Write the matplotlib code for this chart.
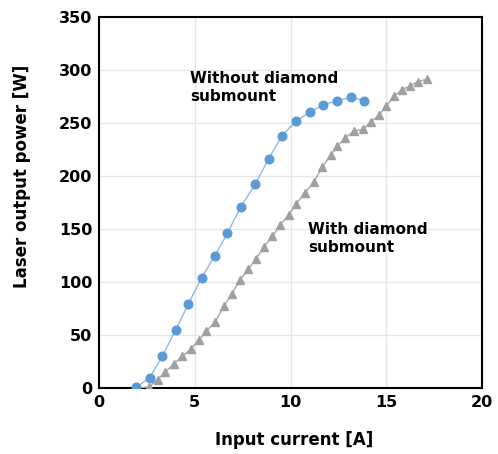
import matplotlib
matplotlib.use("Agg")
import matplotlib.pyplot as plt

# without diamond submount (blue circles)
cur_without = [1.95, 2.65, 3.3, 4.0, 4.65, 5.35, 6.05, 6.7, 7.4, 8.15, 8.85,
               9.55, 10.3, 11.0, 11.7, 12.45, 13.15, 13.85]
pow_without = [1, 10, 30, 55, 79, 104, 125, 146, 171, 192, 216,
               238, 252, 260, 267, 271, 274, 271]

# with diamond submount (gray triangles)
cur_with = [2.0, 2.6, 3.05, 3.45, 3.9, 4.35, 4.8, 5.2, 5.6, 6.05, 6.5, 6.95,
            7.35, 7.8, 8.2, 8.6, 9.05, 9.45, 9.9, 10.3, 10.75, 11.2, 11.65,
            12.1, 12.45, 12.85, 13.3, 13.8, 14.2, 14.6, 15.0, 15.4, 15.8,
            16.25, 16.65, 17.1]
pow_with = [0, 1, 8, 15, 23, 30, 37, 45, 54, 62, 77, 89,
            102, 112, 122, 133, 143, 154, 163, 174, 184, 194, 208,
            220, 228, 236, 242, 244, 251, 257, 266, 275, 281,
            285, 289, 291]

xticks = [0, 5, 10, 15, 20]
yticks = [0, 50, 100, 150, 200, 250, 300, 350]

plt.rcParams['font.family'] = ['DejaVu Sans']

fig = plt.figure(figsize=(4.98, 4.54), dpi=100)
ax = fig.add_axes([0.199, 0.145, 0.769, 0.818])

ax.grid(True, color='#e6e6e6', linewidth=1.0)
ax.set_axisbelow(True)

ax.plot(cur_with, pow_with, color='#a6a6a6', linewidth=1.0,
        marker='^', markersize=5.5, markerfacecolor='#a0a0a0',
        markeredgecolor='#a0a0a0', zorder=3)
ax.plot(cur_without, pow_without, color='#8fb8e3', linewidth=1.0,
        marker='o', markersize=6.2, markerfacecolor='#5b9bd5',
        markeredgecolor='#5b9bd5', zorder=4)

ax.set_xlim(0, 20)
ax.set_ylim(0, 350)
ax.set_xticks(xticks)
ax.set_yticks(yticks)
ax.tick_params(length=0, pad=5, labelsize=11.5)
for lab in ax.get_xticklabels() + ax.get_yticklabels():
    lab.set_fontweight('bold')

for s in ax.spines.values():
    s.set_linewidth(1.5)
    s.set_color('black')

ax.set_xlabel('Input current [A]', fontsize=12, fontweight='bold')
ax.set_ylabel('Laser output power [W]', fontsize=12, fontweight='bold')
ax.xaxis.set_label_coords(0.51, -0.115)
ax.yaxis.set_label_coords(-0.178, 0.57)

ax.text(4.75, 299, 'Without diamond\nsubmount', fontsize=11, fontweight='bold',
        va='top', ha='left', linespacing=1.25)
ax.text(10.9, 157, 'With diamond\nsubmount', fontsize=11, fontweight='bold',
        va='top', ha='left', linespacing=1.25)

fig.savefig('out.png', dpi=100)
